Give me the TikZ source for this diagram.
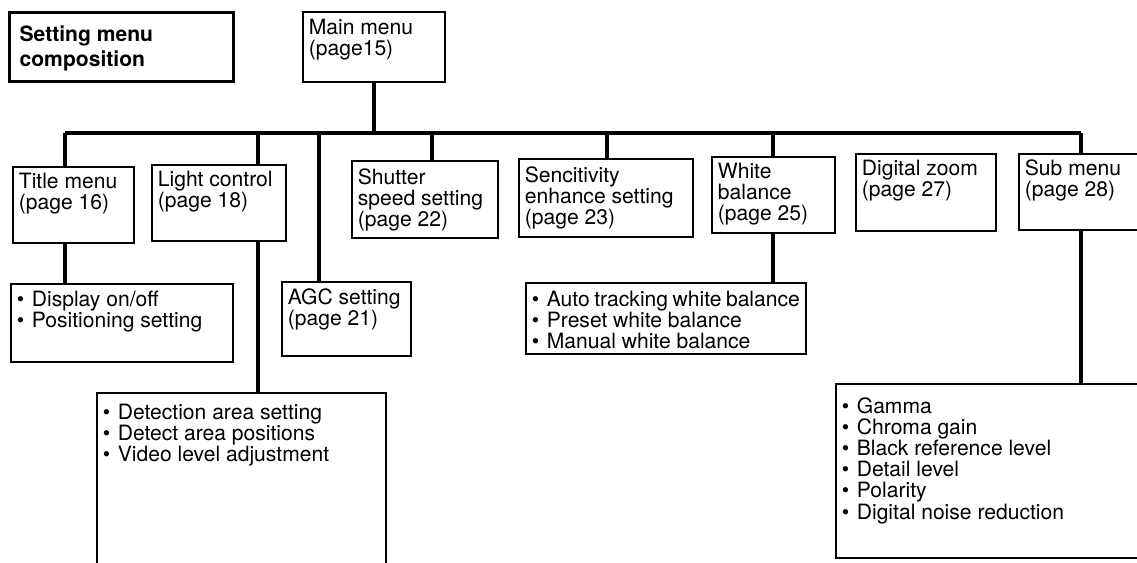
\documentclass[tikz,border=0pt]{standalone}
\usepackage{fontspec}
\setmainfont{TeX Gyre Heros}
\newdimen\pxu \pxu=0.02cm
% box text: [extra top space]{width}{height}{text}, sizes in pixels
\newcommand{\boxtext}[4][0]{\parbox[t][\dimexpr#3\pxu-12\pxu\relax][t]{\dimexpr#2\pxu-12\pxu\relax}{\vspace*{#1\pxu}#4}}
\newcommand{\itm}{\makebox[15\pxu][l]{\textbullet}}

\begin{document}
\begin{tikzpicture}[x=0.02cm,y=-0.02cm,
 menubox/.style={draw,line width=1pt,anchor=north west,inner sep=0.12cm,
                 font=\fontsize{12}{12}\selectfont},
 headbox/.style={menubox,line width=1.8pt,inner xsep=0.2cm,
                 font=\fontsize{12}{14.5}\selectfont\bfseries},
 wire/.style={line width=2pt}]
\useasboundingbox (0,0) rectangle (1137,563);
% top row
\node[headbox] (head) at (8,11) {\boxtext[7]{216}{69}{Setting menu\\composition}};
\node[menubox] (main) at (302,11) {\boxtext[1]{142}{70}{Main menu\\(page15)}};
% menu row
\node[menubox] (tmenu) at (12,166) {\boxtext{121}{76}{Title menu\\(page 16)}};
\node[menubox] (light) at (151,164) {\boxtext{134}{76}{Light control\\(page 18)}};
\node[menubox] (shutter) at (351,160) {\boxtext[2]{146}{77}{Shutter\\speed setting\\(page 22)}};
\node[menubox] (sens) at (518,158) {\boxtext[2]{174}{78}{Sencitivity\\enhance setting\\(page 23)}};
\node[menubox] (white) at (711,156) {\boxtext{123}{76}{White\\balance\\(page 25)}};
\node[menubox] (zoom) at (855,153) {\boxtext{140}{77}{Digital zoom\\(page 27)}};
\node[menubox] (sub) at (1018,153) {\boxtext{125}{76}{Sub menu\\(page 28)}};
% lower boxes
\node[menubox] (disp) at (10,283) {\boxtext[1]{222}{78}{\itm Display on/off\\\itm Positioning setting}};
\node[menubox] (agc) at (281,281) {\boxtext[1]{129}{74}{AGC setting\\(page 21)}};
\node[menubox] (wblist) at (525,282) {\boxtext[2]{280}{71}{\itm Auto tracking white balance\\\itm Preset white balance\\\itm Manual white balance}};
\node[menubox] (det) at (96,392) {\boxtext[5]{289}{175}{\itm Detection area setting\\\itm Detect area positions\\\itm Video level adjustment}};
\node[menubox] (sublist) at (835,383) {\boxtext[8]{305}{174}{\itm Gamma\\\itm Chroma gain\\\itm Black reference level\\\itm Detail level\\\itm Polarity\\\itm Digital noise reduction}};
% bus
\coordinate (bt) at (65,133);
\coordinate (bl) at (258,133);
\coordinate (ba) at (319,133);
\coordinate (bs) at (432,133);
\coordinate (be) at (607,133);
\coordinate (bw) at (773,133);
\coordinate (bu) at (1081,133);
\draw[wire] (main.south) -- (main.south |- bt);
\draw[wire] (bt) -- (bu);
\draw[wire] (bt) -- (bt |- tmenu.north);
\draw[wire] (bl) -- (bl |- light.north);
\draw[wire] (ba) -- (ba |- agc.north);
\draw[wire] (bs) -- (bs |- shutter.north);
\draw[wire] (be) -- (be |- sens.north);
\draw[wire] (bw) -- (bw |- white.north);
\draw[wire] (bu) -- (bu |- sub.north);
\draw[wire] (bt |- tmenu.south) -- (bt |- disp.north);
\draw[wire] (bl |- light.south) -- (bl |- det.north);
\draw[wire] (bw |- white.south) -- (bw |- wblist.north);
\draw[wire] (bu |- sub.south) -- (bu |- sublist.north);
\end{tikzpicture}
\end{document}
